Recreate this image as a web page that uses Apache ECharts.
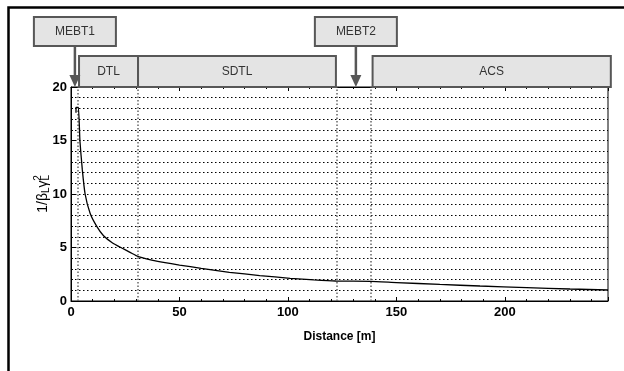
<!DOCTYPE html>
<html>
<head>
<meta charset="utf-8">
<script src="https://cdn.jsdelivr.net/npm/echarts@6/dist/echarts.min.js"></script>
<style>
  html, body { margin: 0; padding: 0; background: #fff; }
  #main { width: 624px; height: 371px; }
</style>
</head>
<body>
<div id="main"></div>
<script>
// curve: distance [m], 1/(beta_L gamma_L^2)
var distance = [2.3, 2.3, 3.4, 4.1, 5.2, 6.5, 8.8, 11.8, 15, 19, 23.4, 27.2, 31, 40, 50, 60, 73, 87, 101, 112, 122, 138, 150, 170, 188.5, 210, 230, 247.5];
var invBetaGamma = [17.6, 18.1, 18.1, 15.0, 12.3, 10.0, 8.2, 7.0, 6.1, 5.45, 4.95, 4.55, 4.15, 3.7, 3.36, 3.05, 2.68, 2.38, 2.12, 1.97, 1.87, 1.84, 1.72, 1.55, 1.4, 1.25, 1.12, 1.03];

// accelerator sections along the beam line
var sectionNames = ['DTL', 'SDTL', 'ACS'];
var sectionStart = [3.7, 30.9, 139];
var sectionEnd = [30.9, 122.1, 248.8];

// matching sections marked by arrows
var markerNames = ['MEBT1', 'MEBT2'];
var markerPos = [1.8, 131.3];

// dotted boundaries
var boundaries = [2.9, 30.7, 122.4, 138];

var xTicks = [0, 50, 100, 150, 200];
var yTicks = [0, 5, 10, 15, 20];

var myChart = echarts.init(document.getElementById('main'));

var font = '"Liberation Sans", Arial, sans-serif';
var boxFill = '#e4e4e4';
var boxLine = '#575757';

var lineData = distance.map(function (d, i) { return [d, invBetaGamma[i]]; });
var sectionData = sectionStart.map(function (s, i) { return [s, sectionEnd[i], 0]; });
var markerData = markerPos.map(function (p) { return [p, 0]; });

option = {
    animation: false,
    backgroundColor: '#fff',
    textStyle: { fontFamily: font },
    graphic: [
        {
            type: 'polyline',
            shape: { points: [[8.5, 380], [8.5, 7.5], [640, 7.5]] },
            style: { stroke: '#000', lineWidth: 2.5, fill: null }
        }
    ],
    grid: {
        left: 71,
        right: 16,
        top: 87,
        bottom: 70,
        show: true,
        borderColor: '#000',
        borderWidth: 1
    },
    xAxis: [
        {
            type: 'value',
            min: 0,
            max: 247.5,
            interval: 50,
            name: 'Distance [m]',
            nameLocation: 'middle',
            nameGap: 30,
            nameTextStyle: { fontSize: 12, fontWeight: 'bold', color: '#000', fontFamily: font },
            axisLine: { show: true, lineStyle: { color: '#000', width: 1 } },
            axisTick: { show: true, inside: true, length: 4, lineStyle: { color: '#000' } },
            minorTick: { show: true, splitNumber: 5, length: 2, lineStyle: { color: '#000' } },
            axisLabel: {
                fontSize: 13, fontWeight: 'bold', color: '#000', margin: 5,
                showMaxLabel: false, fontFamily: font,
                formatter: function (v) { return xTicks.indexOf(v) >= 0 ? v : ''; }
            },
            splitLine: { show: false }
        },
        {
            type: 'value',
            position: 'top',
            min: 0,
            max: 247.5,
            interval: 50,
            axisLine: { show: true, lineStyle: { color: '#000' } },
            axisTick: { show: true, inside: true, length: 4, lineStyle: { color: '#000' } },
            minorTick: { show: true, splitNumber: 5, length: 2, lineStyle: { color: '#000' } },
            axisLabel: { show: false },
            splitLine: { show: false }
        }
    ],
    yAxis: {
        type: 'value',
        min: 0,
        max: 20,
        interval: 5,
        name: '{a|1/β}{s|L}{a|γ}{s|L}{p|2}',
        nameLocation: 'middle',
        nameRotate: 90,
        nameGap: 18,
        nameMoveOverlap: false,
        nameTextStyle: {
            color: '#000',
            rich: {
                a: { fontSize: 14, fontFamily: font, color: '#000', verticalAlign: 'middle' },
                s: { fontSize: 10, fontFamily: font, color: '#000', padding: [7, 0, 0, 0] },
                p: { fontSize: 10, fontFamily: font, color: '#000', padding: [0, 0, 10, -6] }
            }
        },
        axisLine: { show: true, lineStyle: { color: '#000' } },
        axisTick: { show: true, inside: true, length: 4, lineStyle: { color: '#000' } },
        minorTick: { show: true, splitNumber: 5, length: 2, lineStyle: { color: '#000' } },
        axisLabel: {
            fontSize: 13, fontWeight: 'bold', color: '#000', margin: 4, fontFamily: font,
            formatter: function (v) { return yTicks.indexOf(v) >= 0 ? v : ''; }
        },
        splitLine: { show: true, lineStyle: { color: '#000', type: [1.5, 2.5], width: 1 } },
        minorSplitLine: { show: true, lineStyle: { color: '#000', type: [1.5, 2.5], width: 1 } }
    },
    series: [
        {
            type: 'line',
            data: lineData,
            showSymbol: false,
            symbol: 'none',
            smooth: 0.15,
            lineStyle: { color: '#000', width: 1.3 },
            z: 5,
            markLine: {
                silent: true,
                symbol: 'none',
                label: { show: false },
                lineStyle: { color: '#666', type: [1.5, 2], width: 1.5 },
                data: boundaries.map(function (b) { return { xAxis: b }; })
            }
        },
        {
            type: 'custom',
            clip: false,
            z: 10,
            encode: { x: [0, 1], y: 2 },
            data: sectionData,
            renderItem: function (params, api) {
                var x0 = api.coord([api.value(0), 0])[0];
                var x1 = api.coord([api.value(1), 0])[0];
                var top = params.coordSys.y;
                return {
                    type: 'group',
                    children: [
                        {
                            type: 'rect',
                            shape: { x: x0, y: top - 31, width: x1 - x0, height: 31 },
                            style: { fill: boxFill, stroke: boxLine, lineWidth: 2 }
                        },
                        {
                            type: 'text',
                            style: {
                                text: sectionNames[params.dataIndex],
                                x: (x0 + x1) / 2, y: top - 15.5,
                                align: 'center', verticalAlign: 'middle',
                                fill: '#333', font: '12px ' + font
                            }
                        }
                    ]
                };
            }
        },
        {
            type: 'custom',
            clip: false,
            z: 11,
            encode: { x: 0, y: 1 },
            data: markerData,
            renderItem: function (params, api) {
                var cx = api.coord([api.value(0), 0])[0];
                var top = params.coordSys.y;
                return {
                    type: 'group',
                    children: [
                        {
                            type: 'rect',
                            shape: { x: cx - 41, y: top - 70, width: 82, height: 29 },
                            style: { fill: boxFill, stroke: boxLine, lineWidth: 2 }
                        },
                        {
                            type: 'text',
                            style: {
                                text: markerNames[params.dataIndex],
                                x: cx, y: top - 55.5,
                                align: 'center', verticalAlign: 'middle',
                                fill: '#333', font: '12px ' + font
                            }
                        },
                        {
                            type: 'line',
                            shape: { x1: cx, y1: top - 41, x2: cx, y2: top - 11 },
                            style: { stroke: boxLine, lineWidth: 2.5 }
                        },
                        {
                            type: 'polygon',
                            shape: { points: [[cx - 5.5, top - 12], [cx + 5.5, top - 12], [cx, top]] },
                            style: { fill: boxLine }
                        }
                    ]
                };
            }
        }
    ]
};

myChart.setOption(option);
</script>
</body>
</html>
